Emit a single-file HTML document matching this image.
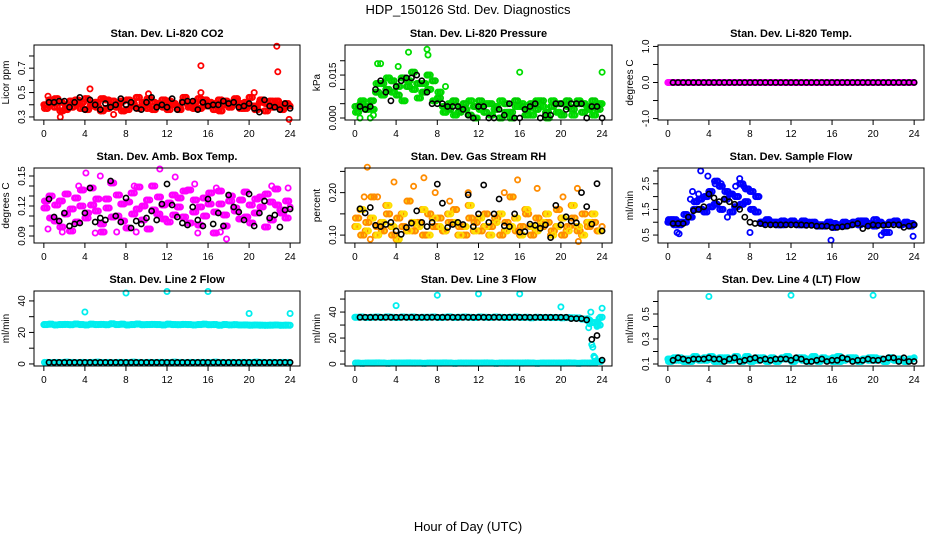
<!DOCTYPE html>
<html><head><meta charset="utf-8"><style>
html,body{margin:0;padding:0;background:#fff;}
svg{display:block;font-family:"Liberation Sans",Arial,sans-serif;}
</style></head><body>
<svg id="chart" width="936" height="540" viewBox="0 0 936 540">
<text x="468" y="14" text-anchor="middle" font-size="13">HDP_150126  Std. Dev. Diagnostics</text>
<text x="468" y="531" text-anchor="middle" font-size="13">Hour of Day (UTC)</text>
</svg>
<script>
// ---- data (values at half-hour steps; A at t=0,0.5,..; B at t=0.25,0.75,..; K black at t=0.5,1.0,..) ----
const hourTicks=[0,4,8,12,16,20,24];
const co2A=[0.40,0.44,0.38,0.42,0.36,0.43,0.41,0.37,0.45,0.39,0.42,0.35,0.44,0.40,0.38,0.43,0.36,0.41,0.46,0.39,0.37,0.42,0.40,0.44,0.36,0.41,0.38,0.43,0.40,0.37,0.45,0.39,0.42,0.36,0.44,0.40,0.38,0.43,0.41,0.37,0.46,0.39,0.42,0.35,0.43,0.40,0.38,0.41,0.39];
const co2B=[0.37,0.41,0.45,0.35,0.40,0.38,0.44,0.42,0.36,0.41,0.38,0.45,0.37,0.43,0.40,0.35,0.44,0.39,0.37,0.42,0.45,0.36,0.41,0.38,0.43,0.40,0.36,0.46,0.38,0.42,0.37,0.44,0.39,0.41,0.35,0.43,0.40,0.45,0.37,0.42,0.39,0.36,0.44,0.41,0.38,0.43,0.36,0.40];
const co2OutX=[15.3,22.7,22.8,4.5,23.9,1.6,15.3,10.2,20.5,0.4,6.8];
const co2OutY=[0.72,0.88,0.67,0.53,0.28,0.30,0.50,0.49,0.50,0.47,0.32];
const co2K=[0.42,0.42,0.43,0.43,0.38,0.42,0.46,0.36,0.44,0.40,0.36,0.41,0.38,0.40,0.45,0.40,0.42,0.37,0.36,0.42,0.46,0.38,0.40,0.38,0.45,0.36,0.42,0.43,0.43,0.36,0.42,0.39,0.40,0.40,0.43,0.41,0.42,0.38,0.39,0.41,0.37,0.34,0.44,0.39,0.38,0.36,0.41,0.37];
const presA=[0.004,0.005,0.003,0.006,0.009,0.012,0.010,0.013,0.008,0.014,0.011,0.016,0.012,0.009,0.015,0.013,0.007,0.004,0.003,0.006,0.002,0.005,0.001,0.004,0.006,0.002,0.005,0.003,0.000,0.005,0.002,0.006,0.004,0.001,0.005,0.003,0.006,0.002,0.004,0.005,0.001,0.006,0.003,0.005,0.002,0.004,0.006,0.003,0.005];
const presB=[0.002,0.006,0.004,0.003,0.012,0.008,0.014,0.009,0.011,0.006,0.013,0.010,0.007,0.012,0.010,0.006,0.009,0.002,0.005,0.001,0.004,0.003,0.006,0.000,0.003,0.005,0.001,0.004,0.006,0.002,0.000,0.004,0.005,0.003,0.001,0.006,0.004,0.000,0.006,0.002,0.005,0.004,0.001,0.006,0.005,0.003,0.001,0.005];
const presOutX=[5.2,7.0,7.1,2.2,2.5,16.0,24.0,8.8,7.3,4.2,1.8,0.5,1.5];
const presOutY=[0.023,0.024,0.022,0.019,0.019,0.016,0.016,0.011,0.015,0.018,0.001,0.000,0.000];
const presK=[0.004,0.003,0.004,0.010,0.013,0.009,0.006,0.011,0.013,0.014,0.014,0.015,0.013,0.009,0.005,0.005,0.005,0.004,0.004,0.004,0.003,0.001,0.000,0.004,0.004,0.000,0.000,0.003,0.001,0.005,0.000,0.000,0.003,0.004,0.005,0.000,0.001,0.001,0.005,0.005,0.003,0.005,0.005,0.005,0.000,0.004,0.004,0.000];
const tempA=[0,0,0,0,0,0,0,0,0,0,0,0,0,0,0,0,0,0,0,0,0,0,0,0,0,0,0,0,0,0,0,0,0,0,0,0,0,0,0,0,0,0,0,0,0,0,0,0,0];
const tempB=[0,0,0,0,0,0,0,0,0,0,0,0,0,0,0,0,0,0,0,0,0,0,0,0,0,0,0,0,0,0,0,0,0,0,0,0,0,0,0,0,0,0,0,0,0,0,0,0];
const tempK=[0,0,0,0,0,0,0,0,0,0,0,0,0,0,0,0,0,0,0,0,0,0,0,0,0,0,0,0,0,0,0,0,0,0,0,0,0,0,0,0,0,0,0,0,0,0,0,0];
const ambA=[0.118,0.130,0.105,0.125,0.112,0.095,0.128,0.120,0.108,0.138,0.115,0.102,0.127,0.143,0.110,0.122,0.098,0.133,0.117,0.106,0.126,0.140,0.112,0.121,0.104,0.131,0.119,0.109,0.136,0.114,0.101,0.128,0.122,0.093,0.135,0.111,0.125,0.118,0.107,0.134,0.121,0.113,0.129,0.099,0.124,0.137,0.116,0.108,0.119];
const ambB=[0.125,0.108,0.121,0.099,0.132,0.117,0.104,0.136,0.113,0.121,0.127,0.094,0.118,0.109,0.131,0.105,0.124,0.112,0.139,0.120,0.097,0.116,0.129,0.107,0.123,0.111,0.128,0.135,0.103,0.126,0.119,0.110,0.133,0.114,0.122,0.100,0.130,0.115,0.126,0.109,0.103,0.127,0.119,0.132,0.106,0.121,0.113,0.125];
const ambOutX=[4.1,5.5,11.3,12.8,14.7,5.0,1.8,7.1,17.8,15.0,0.4,9.0,17.2,22.2,3.4,8.8,16.8,23.8];
const ambOutY=[0.153,0.150,0.157,0.149,0.142,0.093,0.094,0.094,0.087,0.093,0.097,0.094,0.094,0.140,0.140,0.140,0.138,0.138];
const ambK=[0.127,0.109,0.105,0.113,0.100,0.102,0.103,0.113,0.138,0.104,0.108,0.106,0.145,0.110,0.104,0.128,0.098,0.105,0.102,0.108,0.115,0.106,0.122,0.142,0.121,0.109,0.103,0.101,0.119,0.106,0.100,0.127,0.102,0.113,0.100,0.131,0.119,0.114,0.106,0.132,0.100,0.113,0.125,0.108,0.111,0.099,0.116,0.117];
const rhA=[0.12,0.16,0.11,0.14,0.10,0.13,0.17,0.12,0.09,0.15,0.11,0.13,0.12,0.16,0.10,0.14,0.12,0.11,0.15,0.13,0.10,0.12,0.17,0.11,0.14,0.12,0.10,0.13,0.15,0.11,0.12,0.14,0.10,0.16,0.12,0.11,0.13,0.15,0.10,0.12,0.14,0.11,0.17,0.12,0.10,0.13,0.15,0.11,0.12];
const rhB=[0.14,0.10,0.13,0.19,0.12,0.11,0.15,0.10,0.14,0.12,0.18,0.11,0.13,0.10,0.15,0.12,0.14,0.11,0.13,0.16,0.12,0.10,0.14,0.13,0.11,0.15,0.12,0.14,0.10,0.13,0.19,0.11,0.12,0.15,0.10,0.14,0.12,0.13,0.11,0.16,0.10,0.12,0.14,0.11,0.15,0.12,0.13,0.11];
const rhOutX=[1.2,6.7,3.8,15.8,2.2,5.7,17.7,21.6,7.8,21.7,1.5,9.2,14.5,20.2,0.9,11.0];
const rhOutY=[0.26,0.235,0.225,0.23,0.19,0.215,0.21,0.21,0.20,0.085,0.09,0.18,0.20,0.19,0.19,0.20];
const rhK=[0.162,0.152,0.165,0.123,0.120,0.125,0.130,0.110,0.102,0.118,0.128,0.157,0.130,0.120,0.130,0.220,0.175,0.118,0.125,0.130,0.125,0.195,0.120,0.150,0.218,0.130,0.150,0.185,0.122,0.120,0.150,0.107,0.108,0.126,0.123,0.116,0.124,0.094,0.170,0.124,0.143,0.133,0.129,0.200,0.167,0.126,0.221,0.110];
const flowA=[1.0,1.1,0.9,1.0,1.2,1.5,1.9,1.4,2.2,1.7,2.4,1.9,2.1,1.6,2.5,1.8,2.2,1.4,1.0,1.05,0.95,1.0,0.9,1.0,1.05,0.95,0.9,1.0,0.95,0.85,0.9,0.95,0.8,0.9,0.85,0.95,1.0,0.9,1.05,0.95,0.85,1.0,0.9,0.95,1.0,0.9,0.95,0.85,0.9];
const flowB=[1.1,0.9,1.0,1.3,1.2,1.8,1.5,2.0,1.6,2.6,1.5,2.2,1.4,2.0,1.7,2.3,1.5,2.0,0.95,1.1,1.0,0.9,1.05,0.95,1.0,0.9,1.05,0.95,1.0,0.9,0.85,1.0,0.95,0.85,1.0,0.9,0.95,1.05,1.0,0.9,1.1,0.95,0.6,1.0,1.05,0.9,1.0,0.95];
const flowOutX=[3.2,3.9,7.0,0.9,1.1,8.0,15.9,20.8,21.6,23.9,2.2,2.4,4.6,5.2,6.6,7.4,3.0,5.8];
const flowOutY=[3.0,2.8,2.7,0.6,0.55,0.6,0.3,0.5,0.6,0.45,1.9,2.2,2.5,2.5,2.4,2.4,2.1,1.2];
const flowK=[0.95,0.95,0.95,1.2,1.45,1.5,1.6,2.1,1.95,1.8,1.9,1.8,1.7,1.5,1.2,1.0,0.95,0.95,0.9,0.9,0.9,0.9,0.9,0.9,0.9,0.9,0.88,0.88,0.85,0.85,0.85,0.8,0.8,0.82,0.85,0.9,0.95,0.75,0.85,0.9,0.88,0.88,0.9,0.9,0.9,0.8,0.85,0.9];
const l2A=[25,25.2,24.8,25,25.1,24.9,25.3,25,24.8,25.2,25,25.1,24.9,25.5,25,25.2,24.8,25,25.3,24.9,25,25.1,25,24.8,25.2,25,24.9,25.1,25,24.8,25,25.2,24.9,25,24.6,25,24.8,24.9,24.7,24.8,24.6,24.7,24.6,24.5,24.6,24.7,24.5,24.6,24.5];
const l2B=[1.0,0.8,1.0,0.9,1.1,1.0,0.8,1.0,0.9,1.0,1.1,0.9,1.0,0.8,1.0,1.0,0.9,1.1,1.0,0.8,1.0,0.9,1.0,1.0,0.9,1.1,1.0,0.8,1.0,0.9,1.0,1.0,0.9,1.1,1.0,0.8,1.0,0.9,1.0,1.0,0.9,1.1,1.0,0.8,1.0,0.9,1.0,1.0];
const l2OutX=[4,8,12,16,20,24];
const l2OutY=[33,45,46,46,32,32];
const l2K=[1,1,1,1,1,1,1,1,1,1,1,1,1,1,1,1,1,1,1,1,1,1,1,1,1,1,1,1,1,1,1,1,1,1,1,1,1,1,1,1,1,1,1,1,1,1,1,1];
const l3A=[36,36.2,35.8,36,36.1,35.9,36.3,36,35.8,36.2,36,36.1,35.9,36,36,36.2,35.8,36,36.3,35.9,36,36.1,36,35.8,36.2,36,35.9,36.1,36,35.8,36,36.2,35.9,36,35.6,36,35.8,35.9,35.7,35.8,35.6,35.7,35.6,35.5,34.6,33.7,32,30,36];
const l3B=[0.8,0.6,0.8,0.7,0.9,0.8,0.6,0.8,0.7,0.8,0.9,0.7,0.8,0.6,0.8,0.8,0.7,0.9,0.8,0.6,0.8,0.7,0.8,0.8,0.7,0.9,0.8,0.6,0.8,0.7,0.8,0.8,0.7,0.9,0.8,0.6,0.8,0.7,0.8,0.8,0.7,0.9,0.8,0.6,0.8,0.7,1.0,2.0];
const l3OutX=[4,8,12,16,20,22.7,22.8,22.9,23.0,23.1,23.2,23.5,23.6,23.7,24.0,22.6,23.3,23.8];
const l3OutY=[45,53,54,54,44,28,31,40,15,13,6,29,32,35,43,35,5,36];
const l3K=[36,36,36,36,36,36,36,36,36,36,36,36,36,36,36,36,36,36,36,36,36,36,36,36,36,36,36,36,36,36,36,36,36,36,36,36,36,36,36,36,36,35,35,35,34,19,22,3];
const l4A=[0.14,0.13,0.15,0.12,0.14,0.16,0.13,0.15,0.14,0.12,0.15,0.13,0.14,0.16,0.13,0.14,0.12,0.15,0.14,0.13,0.15,0.12,0.14,0.16,0.13,0.14,0.15,0.12,0.14,0.13,0.15,0.14,0.12,0.16,0.13,0.14,0.15,0.12,0.14,0.13,0.15,0.14,0.12,0.15,0.13,0.14,0.12,0.14,0.15];
const l4B=[0.12,0.15,0.13,0.14,0.12,0.15,0.14,0.13,0.16,0.14,0.12,0.15,0.13,0.14,0.12,0.16,0.14,0.13,0.15,0.12,0.14,0.13,0.15,0.14,0.12,0.15,0.13,0.14,0.16,0.12,0.14,0.13,0.15,0.12,0.14,0.15,0.13,0.12,0.14,0.15,0.13,0.14,0.12,0.15,0.14,0.13,0.12,0.14];
const l4OutX=[4,12,20];
const l4OutY=[0.64,0.65,0.65];
const l4K=[0.13,0.15,0.14,0.13,0.14,0.14,0.14,0.15,0.14,0.14,0.12,0.14,0.15,0.12,0.13,0.14,0.15,0.13,0.14,0.13,0.14,0.14,0.14,0.13,0.15,0.14,0.12,0.12,0.13,0.14,0.12,0.13,0.13,0.15,0.14,0.12,0.13,0.13,0.14,0.13,0.13,0.14,0.15,0.15,0.12,0.15,0.12,0.12];

// ---- layout ----
const colLeft=[34,345,658], colW=[266,267,266];
const rowTop=[45,168,291], rowH=75;
const panels=[
 {name:'co2',title:'Stan. Dev. Li-820 CO2',ylab:'Licor ppm',c:0,r:0,ymin:0.275,ymax:0.89,ticks:[0.3,0.4,0.5,0.6,0.7,0.8],labels:['0.3','0.5','0.7'],lv:[0.3,0.5,0.7],col:'#ff0000',col2:'#ff0000',A:co2A,B:co2B,ox:co2OutX,oy:co2OutY,K:co2K},
 {name:'pressure',title:'Stan. Dev. Li-820 Pressure',ylab:'kPa',c:1,r:0,ymin:-0.0007,ymax:0.0255,ticks:[0,0.005,0.01,0.015,0.02],labels:['0.000','0.015'],lv:[0,0.015],col:'#00dd00',col2:'#00cc00',A:presA,B:presB,ox:presOutX,oy:presOutY,K:presK},
 {name:'li820-temp',title:'Stan. Dev. Li-820 Temp.',ylab:'degrees C',c:2,r:0,ymin:-1.04,ymax:1.04,ticks:[-1,-0.5,0,0.5,1],labels:['-1.0','0.0','1.0'],lv:[-1,0,1],col:'#ff00ff',col2:'#ff00ff',A:tempA,B:tempB,ox:[],oy:[],K:tempK},
 {name:'amb-box-temp',title:'Stan. Dev. Amb. Box Temp.',ylab:'degrees C',c:0,r:1,ymin:0.083,ymax:0.158,ticks:[0.09,0.10,0.11,0.12,0.13,0.14,0.15],labels:['0.09','0.12','0.15'],lv:[0.09,0.12,0.15],col:'#ff00ff',col2:'#ff00ff',A:ambA,B:ambB,ox:ambOutX,oy:ambOutY,K:ambK},
 {name:'gas-stream-rh',title:'Stan. Dev. Gas Stream RH',ylab:'percent',c:1,r:1,ymin:0.0814,ymax:0.258,ticks:[0.10,0.15,0.20,0.25],labels:['0.10','0.20'],lv:[0.10,0.20],col:'#ff8c00',col2:'#ffdd00',A:rhA,B:rhB,ox:rhOutX,oy:rhOutY,K:rhK},
 {name:'sample-flow',title:'Stan. Dev. Sample Flow',ylab:'ml/min',c:2,r:1,ymin:0.19,ymax:3.115,ticks:[0.5,1,1.5,2,2.5,3],labels:['0.5','1.5','2.5'],lv:[0.5,1.5,2.5],col:'#0000ff',col2:'#0000ff',A:flowA,B:flowB,ox:flowOutX,oy:flowOutY,K:flowK},
 {name:'line2-flow',title:'Stan. Dev. Line 2 Flow',ylab:'ml/min',c:0,r:2,ymin:-1.3,ymax:46.3,ticks:[0,10,20,30,40],labels:['0','20','40'],lv:[0,20,40],col:'#00eeee',col2:'#00eeee',A:l2A,B:l2B,ox:l2OutX,oy:l2OutY,K:l2K},
 {name:'line3-flow',title:'Stan. Dev. Line 3 Flow',ylab:'ml/min',c:1,r:2,ymin:-1.5,ymax:56.2,ticks:[0,10,20,30,40,50],labels:['0','20','40'],lv:[0,20,40],col:'#00eeee',col2:'#00eeee',A:l3A,B:l3B,ox:l3OutX,oy:l3OutY,K:l3K},
 {name:'line4-flow',title:'Stan. Dev. Line 4 (LT) Flow',ylab:'ml/min',c:2,r:2,ymin:0.084,ymax:0.684,ticks:[0.1,0.2,0.3,0.4,0.5,0.6],labels:['0.1','0.3','0.5'],lv:[0.1,0.3,0.5],col:'#00eeee',col2:'#00eeee',A:l4A,B:l4B,ox:l4OutX,oy:l4OutY,K:l4K}
];
const NS='http://www.w3.org/2000/svg';
const svg=document.getElementById('chart');
function mk(tag,attrs,parent){const e=document.createElementNS(NS,tag);for(const k in attrs)e.setAttribute(k,attrs[k]);(parent||svg).appendChild(e);return e;}
panels.forEach(p=>{
  const L=colLeft[p.c],W=colW[p.c],T=rowTop[p.r],H=rowH;
  const pad=0.96, span=24+2*pad;
  const xs=t=>L+(t+pad)/span*W;
  const ys=v=>T+H-(v-p.ymin)/(p.ymax-p.ymin)*H;
  const g=mk('g',{});
  
  
  const tt=mk('text',{x:L+W/2,y:T-8,'text-anchor':'middle','font-size':'11','font-weight':'bold'},g);
  tt.textContent=p.title;
  
  
  const yl=mk('text',{x:0,y:0,'text-anchor':'middle','font-size':'10',transform:`translate(${L-25},${T+H/2}) rotate(-90)`},g);
  yl.textContent=p.ylab;
  
  
  hourTicks.forEach(h=>{
    const x=xs(h);
    const tk=mk('line',{x1:x,x2:x,y1:T+H,y2:T+H+5,stroke:'#000','stroke-width':1},g);
    
    
    const tl=mk('text',{x:x,y:T+H+17,'text-anchor':'middle','font-size':'10'},g);
    tl.textContent=h;
    
    
  });
  p.ticks.forEach(v=>{
    const y=ys(v);
    const tk=mk('line',{x1:L-5,x2:L,y1:y,y2:y,stroke:'#000','stroke-width':1},g);
    
    
  });
  p.lv.forEach((v,i)=>{
    const y=ys(v);
    const tl=mk('text',{x:0,y:0,'text-anchor':'middle','font-size':'10',transform:`translate(${L-9},${y}) rotate(-90)`},g);
    tl.textContent=p.labels[i];
    
    
  });
  const pts=mk('g',{fill:'none'},g);
  
  
  function dot(t,v,col,sw){
    if(t>24.05)return;
    const c=mk('circle',{cx:xs(t).toFixed(1),cy:ys(v).toFixed(1),r:2.6,stroke:col,'stroke-width':sw},pts);
    
    
  }
  p.A.forEach((v,i)=>dot(i*0.5,v,p.col,1.9));
  p.B.forEach((v,i)=>dot(i*0.5+0.25,v,p.col2,1.9));
  p.A.forEach((v,i)=>dot(i*0.5+0.12,v,p.col2,1.9));
  p.B.forEach((v,i)=>dot(i*0.5+0.37,v,p.col,1.9));
  p.B.forEach((v,i)=>dot(i*0.5+0.06,v,p.col,1.9));
  p.A.forEach((v,i)=>dot(i*0.5+0.31,v,p.col2,1.9));
  p.ox.forEach((t,i)=>dot(t,p.oy[i],p.col,1.8));
  p.K.forEach((v,i)=>dot(i*0.5+0.5,v,'#000',1.6));
  const box=mk('rect',{x:L,y:T,width:W,height:H,fill:'none',stroke:'#000','stroke-width':1},g);
  
  
});
</script>
</body></html>
